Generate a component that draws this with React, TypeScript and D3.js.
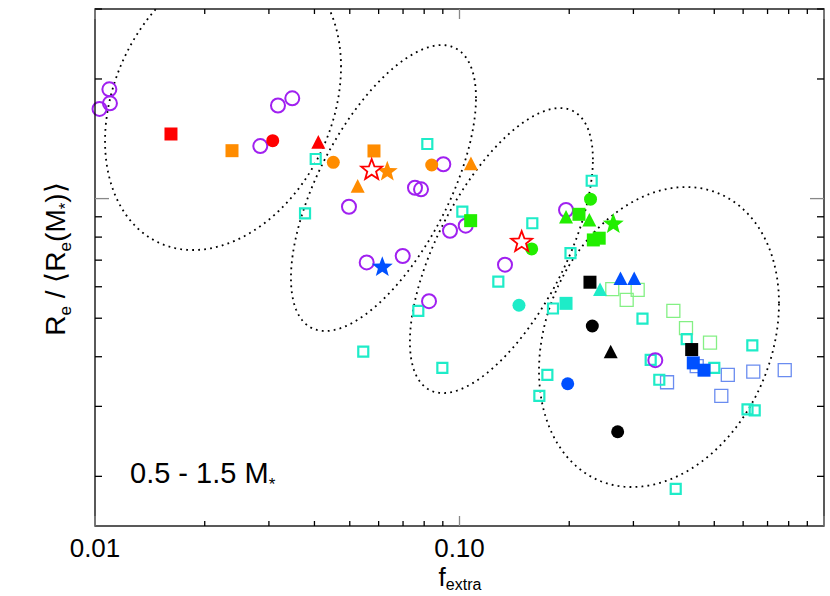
import * as d3 from 'd3';

type Pt = [number, number];

// f_extra, R_e / <R_e(M*)>
const purpleOpen: Pt[] = [
  [0.01095, 1.884], [0.01099, 1.737], [0.01029, 1.681], [0.02841, 1.356], [0.03177, 1.715],
  [0.03477, 1.788], [0.04975, 0.954], [0.07549, 1.065], [0.07842, 1.055], [0.09029, 1.22],
  [0.104, 0.855], [0.09417, 0.83], [0.05564, 0.691], [0.06986, 0.717], [0.08248, 0.552],
  [0.1333, 0.682], [0.196, 0.936], [0.3445, 0.392],
];
const cyanOpen: Pt[] = [
  [0.04032, 1.258], [0.03769, 0.918], [0.0816, 1.372], [0.1018, 0.927], [0.1584, 0.867],
  [0.1278, 0.618], [0.07709, 0.522], [0.05445, 0.412], [0.08973, 0.375], [0.1805, 0.529],
  [0.1742, 0.36], [0.1656, 0.319], [0.2305, 1.109], [0.2016, 0.729], [0.3177, 0.499],
  [0.4201, 0.443], [0.6358, 0.427], [0.3346, 0.393], [0.5001, 0.375], [0.3533, 0.35],
  [0.6168, 0.295], [0.6455, 0.293], [0.3919, 0.186],
];
const lightGreenOpen: Pt[] = [
  [0.2625, 0.592], [0.2875, 0.556], [0.3082, 0.589], [0.3861, 0.522], [0.4182, 0.472], [0.4867, 0.434],
];
const lightBlueOpen: Pt[] = [
  [0.4475, 0.379], [0.5446, 0.36], [0.6397, 0.367], [0.7803, 0.37], [0.371, 0.345], [0.5227, 0.319],
];
const redSquare: Pt[] = [[0.01616, 1.454]];
const redCircle: Pt[] = [[0.03073, 1.399]];
const redTriangle: Pt[] = [[0.04099, 1.382]];
const redOpenStar: Pt[] = [[0.05742, 1.18], [0.1481, 0.777]];
const orangeSquare: Pt[] = [[0.02376, 1.32], [0.05826, 1.318]];
const orangeCircle: Pt[] = [[0.04506, 1.234], [0.0839, 1.215]];
const orangeTriangle: Pt[] = [[0.05256, 1.071], [0.1075, 1.22]];
const orangeStar: Pt[] = [[0.06337, 1.169]];
const greenSquare: Pt[] = [[0.1073, 0.88], [0.2127, 0.913], [0.2329, 0.787], [0.2417, 0.795]];
const greenCircle: Pt[] = [[0.1578, 0.747], [0.2288, 0.9965]];
const greenTriangle: Pt[] = [[0.196, 0.895], [0.2271, 0.88]];
const greenStar: Pt[] = [[0.2642, 0.863]];
const cyanCircle: Pt[] = [[0.1456, 0.539]];
const cyanSquare: Pt[] = [[0.196, 0.545]];
const cyanTriangle: Pt[] = [[0.243, 0.588]];
const blackSquare: Pt[] = [[0.228, 0.616], [0.4335, 0.417]];
const blackCircle: Pt[] = [[0.2314, 0.478], [0.2716, 0.259]];
const blackTriangle: Pt[] = [[0.2599, 0.41]];
const blueStar: Pt[] = [[0.0614, 0.672]];
const blueCircle: Pt[] = [[0.1981, 0.342]];
const blueTriangle: Pt[] = [[0.2765, 0.627], [0.3015, 0.627]];
const blueSquare: Pt[] = [[0.4379, 0.386], [0.4686, 0.37]];

// ellipses: centre (f_extra, R ratio), widths in dex, correlation
const ellipseCentres: Pt[] = [[0.02245, 1.73], [0.06186, 1.063], [0.1303, 0.74], [0.3526, 0.4484]];
const ellipseSigX = [0.3237, 0.2538, 0.251, 0.3292];
const ellipseSigY = [0.3674, 0.3598, 0.3586, 0.3775];
const ellipseRho = [0.254, 0.63, 0.64, 0.225];

const xDomain: Pt = [0.01, 1];
const yDomain: Pt = [0.15, 3];
const xTickLabels = [0.01, 0.1];

const PURPLE = '#a020f0';
const CYAN = '#1eecc8';
const GREEN = '#22ee00';
const ORANGE = '#ff8c00';
const RED = '#ff0000';
const BLUE = '#0050ff';

type Shape = 'square' | 'circle' | 'triangle' | 'star';
interface Series { pts: Pt[]; shape: Shape; size: number; fill: string; stroke: string; sw: number; }

const series: Series[] = [
  { pts: lightGreenOpen, shape: 'square', size: 13, fill: 'none', stroke: '#84f084', sw: 1.3 },
  { pts: lightBlueOpen, shape: 'square', size: 13, fill: 'none', stroke: '#6a8cf0', sw: 1.3 },
  { pts: cyanOpen, shape: 'square', size: 10, fill: 'none', stroke: CYAN, sw: 2.2 },
  { pts: purpleOpen, shape: 'circle', size: 14, fill: 'none', stroke: PURPLE, sw: 2 },
  { pts: redSquare, shape: 'square', size: 13, fill: RED, stroke: 'none', sw: 0 },
  { pts: redCircle, shape: 'circle', size: 13, fill: RED, stroke: 'none', sw: 0 },
  { pts: redTriangle, shape: 'triangle', size: 14, fill: RED, stroke: 'none', sw: 0 },
  { pts: orangeSquare, shape: 'square', size: 13, fill: ORANGE, stroke: 'none', sw: 0 },
  { pts: orangeCircle, shape: 'circle', size: 13, fill: ORANGE, stroke: 'none', sw: 0 },
  { pts: orangeTriangle, shape: 'triangle', size: 14, fill: ORANGE, stroke: 'none', sw: 0 },
  { pts: orangeStar, shape: 'star', size: 11, fill: ORANGE, stroke: 'none', sw: 0 },
  { pts: greenCircle, shape: 'circle', size: 13, fill: GREEN, stroke: 'none', sw: 0 },
  { pts: greenSquare, shape: 'square', size: 13, fill: GREEN, stroke: 'none', sw: 0 },
  { pts: greenTriangle, shape: 'triangle', size: 14, fill: GREEN, stroke: 'none', sw: 0 },
  { pts: greenStar, shape: 'star', size: 11, fill: GREEN, stroke: 'none', sw: 0 },
  { pts: cyanCircle, shape: 'circle', size: 13, fill: CYAN, stroke: 'none', sw: 0 },
  { pts: cyanSquare, shape: 'square', size: 13, fill: CYAN, stroke: 'none', sw: 0 },
  { pts: cyanTriangle, shape: 'triangle', size: 14, fill: CYAN, stroke: 'none', sw: 0 },
  { pts: blackSquare, shape: 'square', size: 13, fill: '#000', stroke: 'none', sw: 0 },
  { pts: blackCircle, shape: 'circle', size: 13, fill: '#000', stroke: 'none', sw: 0 },
  { pts: blackTriangle, shape: 'triangle', size: 14, fill: '#000', stroke: 'none', sw: 0 },
  { pts: blueStar, shape: 'star', size: 11, fill: BLUE, stroke: 'none', sw: 0 },
  { pts: blueCircle, shape: 'circle', size: 13, fill: BLUE, stroke: 'none', sw: 0 },
  { pts: blueTriangle, shape: 'triangle', size: 14, fill: BLUE, stroke: 'none', sw: 0 },
  { pts: blueSquare, shape: 'square', size: 13, fill: BLUE, stroke: 'none', sw: 0 },
  { pts: redOpenStar, shape: 'star', size: 11, fill: '#fff', stroke: RED, sw: 1.8 },
];

function markerPath(shape: Shape, s: number): string {
  if (shape === 'square') return `M${-s / 2},${-s / 2}h${s}v${s}h${-s}Z`;
  if (shape === 'triangle') return `M0,${-s * 0.55}L${s / 2},${s * 0.42}L${-s / 2},${s * 0.42}Z`;
  // star, s = outer radius
  const pts: string[] = [];
  for (let i = 0; i < 10; i++) {
    const r = i % 2 === 0 ? s : s * 0.42;
    const a = -Math.PI / 2 + (i * Math.PI) / 5;
    pts.push(`${(r * Math.cos(a)).toFixed(2)},${(r * Math.sin(a)).toFixed(2)}`);
  }
  return 'M' + pts.join('L') + 'Z';
}

const W = 830;
const H = 596;
const left = 95, right = 824, top = 9, bottom = 526;
const FONT = '"Liberation Sans", Arial, Helvetica, sans-serif';

export default function App() {
  const x = d3.scaleLog().domain(xDomain).range([left, right]);
  const y = d3.scaleLog().domain(yDomain).range([bottom, top]);

  const line = d3.line<Pt>().x(d => x(d[0])).y(d => y(d[1])).curve(d3.curveLinearClosed);
  const ellipses = ellipseCentres.map((c, i) => {
    const lx0 = Math.log10(c[0]);
    const ly0 = Math.log10(c[1]);
    const rho = ellipseRho[i];
    const pts: Pt[] = d3.range(0, 360, 1).map(deg => {
      const t = (deg * Math.PI) / 180;
      const lx = lx0 + ellipseSigX[i] * Math.cos(t);
      const ly = ly0 + ellipseSigY[i] * (rho * Math.cos(t) + Math.sqrt(1 - rho * rho) * Math.sin(t));
      return [Math.pow(10, lx), Math.pow(10, ly)];
    });
    return line(pts) as string;
  });

  const xTicks = x.ticks();
  const yTicks = y.ticks();
  const isMajor = (v: number) => Math.abs(Math.log10(v) - Math.round(Math.log10(v))) < 1e-6;

  return (
    <svg width={W} height={H} style={{ position: 'absolute', left: 0, top: 0, background: '#fff' }} fontFamily={FONT}>
      <defs>
        <clipPath id="plot-clip">
          <rect x={left} y={top} width={right - left} height={bottom - top} />
        </clipPath>
      </defs>

      <g clipPath="url(#plot-clip)">
        {ellipses.map((d, i) => (
          <path key={i} d={d} fill="none" stroke="#000" strokeWidth={1.8} strokeDasharray="1.8 4.2" />
        ))}
      </g>

      {series.map((s, si) => (
        <g key={si}>
          {s.pts.map((p, pi) =>
            s.shape === 'circle' ? (
              <circle key={pi} cx={x(p[0])} cy={y(p[1])} r={s.size / 2} fill={s.fill} stroke={s.stroke} strokeWidth={s.sw} />
            ) : (
              <path key={pi} transform={`translate(${x(p[0])},${y(p[1])})`} d={markerPath(s.shape, s.size)}
                fill={s.fill} stroke={s.stroke} strokeWidth={s.sw} />
            )
          )}
        </g>
      ))}

      {/* frame */}
      <rect x={left} y={top} width={right - left} height={bottom - top} fill="none" stroke="#000" strokeWidth={1.3} />

      {/* x ticks (bottom and top) */}
      {xTicks.map((v, i) => {
        const major = isMajor(v);
        const len = major ? 10 : 5;
        const col = major ? '#888' : '#000';
        return (
          <g key={'xt' + i}>
            <line x1={x(v)} x2={x(v)} y1={bottom} y2={bottom - len} stroke={col} strokeWidth={1.3} />
            <line x1={x(v)} x2={x(v)} y1={top} y2={top + len} stroke={col} strokeWidth={1.3} />
          </g>
        );
      })}
      {/* y ticks (left and right) */}
      {yTicks.map((v, i) => {
        const major = isMajor(v);
        const len = major ? 14 : 7;
        const col = major ? '#888' : '#000';
        return (
          <g key={'yt' + i}>
            <line x1={left} x2={left + len} y1={y(v)} y2={y(v)} stroke={col} strokeWidth={1.3} />
            <line x1={right} x2={right - len} y1={y(v)} y2={y(v)} stroke={col} strokeWidth={1.3} />
          </g>
        );
      })}

      {xTickLabels.map(v => (
        <text key={v} x={x(v)} y={557} textAnchor="middle" fontSize={26} fill="#000">
          {d3.format('.2f')(v)}
        </text>
      ))}

      {/* x title */}
      <text x={460} y={586} textAnchor="middle" fontSize={26} fill="#000">
        f<tspan fontSize={16} dy={4}>extra</tspan>
      </text>

      {/* y title */}
      <text transform="translate(65,259) rotate(-90)" textAnchor="middle" fontSize={28} fill="#000">
        R<tspan fontSize={17} dy={6}>e</tspan>
        <tspan dy={-6}> / ⟨R</tspan>
        <tspan fontSize={17} dy={6}>e</tspan>
        <tspan dy={-6}>(M</tspan>
        <tspan fontSize={17} dy={6}>*</tspan>
        <tspan dy={-6}>)⟩</tspan>
      </text>

      {/* mass bin label */}
      <text x={130} y={483} fontSize={29} fill="#000">
        0.5 - 1.5 M<tspan fontSize={17} dy={7}>*</tspan>
      </text>
    </svg>
  );
}
